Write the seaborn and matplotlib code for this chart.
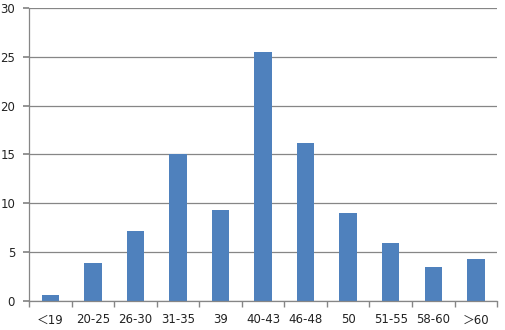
import matplotlib
matplotlib.use("Agg")
import matplotlib.pyplot as plt
import seaborn as sns
import numpy as np
import pandas as pd

categories = ["＜19", "20-25", "26-30", "31-35", "39", "40-43", "46-48", "50", "51-55", "58-60", "＞60"]
values = [0.6, 3.9, 7.2, 15.0, 9.3, 25.5, 16.2, 9.0, 5.9, 3.5, 4.3]
yticks = [0, 5, 10, 15, 20, 25, 30]

sns.set_theme(style="white")
plt.rcParams['font.family'] = ['DejaVu Sans', 'Noto Sans CJK SC']

df = pd.DataFrame({"cat": categories, "val": values})
fig = plt.figure(figsize=(5.05, 3.3), dpi=100)
ax = fig.add_axes([0.0574, 0.088, 0.927, 0.888])
sns.barplot(data=df, x="cat", y="val", color="#4F81BD", saturation=1, width=0.41,
            linewidth=0, ax=ax)

ax.set_ylim(0, 30)
ax.set_xlim(-0.5, len(categories) - 0.5)
ax.set_yticks(yticks)
ax.set_yticklabels([str(t) for t in yticks], fontsize=8.5, color="#222222")
ax.set_xticks(range(len(categories)))
ax.set_xticklabels(categories, fontsize=8.5, color="#222222")
ax.set_xlabel("")
ax.set_ylabel("")
ax.yaxis.grid(True, color="#868686", linewidth=0.9)
ax.set_axisbelow(True)
for s in ["top", "right"]:
    ax.spines[s].set_visible(False)
for s in ["left", "bottom"]:
    ax.spines[s].set_color("#868686")
    ax.spines[s].set_linewidth(0.9)
ax.set_xticks(np.arange(-0.5, len(categories), 1), minor=True)
ax.tick_params(axis="x", which="major", length=0, pad=9)
ax.tick_params(axis="x", which="minor", length=4, color="#868686", direction="out", bottom=True)
ax.tick_params(axis="y", length=4, color="#868686", direction="out", left=True, pad=6)

fig.savefig("out.png", dpi=100)
